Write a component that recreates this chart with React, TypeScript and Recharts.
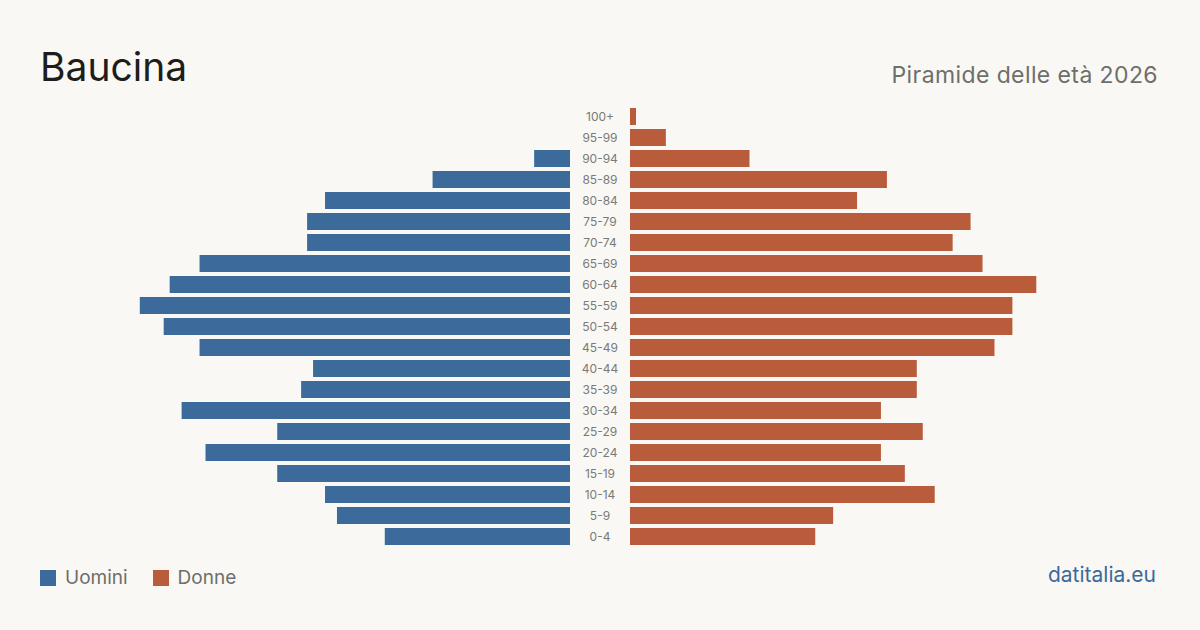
import React from "react";
import { BarChart, Bar, XAxis, YAxis } from "recharts";

const AGE_GROUPS = [
  "100+", "95-99", "90-94", "85-89", "80-84", "75-79", "70-74", "65-69", "60-64", "55-59",
  "50-54", "45-49", "40-44", "35-39", "30-34", "25-29", "20-24", "15-19", "10-14", "5-9", "0-4",
];
const MEN = [0, 0, 6, 23, 41, 44, 44, 62, 67, 72, 68, 62, 43, 45, 65, 49, 61, 49, 41, 39, 31];
const WOMEN = [1, 6, 20, 43, 38, 57, 54, 59, 68, 64, 64, 61, 48, 48, 42, 49, 42, 46, 51, 34, 31];

const COLORS = { men: "#3b6a9b", women: "#b95c3c", bg: "#f9f8f4" };
const FONT = "Inter, 'Noto Sans', sans-serif";
const DOMAIN: [number, number] = [0, 80];

const data = AGE_GROUPS.map((age, i) => ({ age, men: MEN[i], women: WOMEN[i] }));

// age label sits in the gap between the two halves
function AgeTick({ y, payload }: any) {
  return (
    <text x={30} y={y} dy={4} textAnchor="middle" fontSize={12} fill="#7a7a78" fontFamily={FONT}>
      {payload.value}
    </text>
  );
}

export default function App() {
  return (
    <div
      style={{
        position: "fixed",
        top: 0,
        left: 0,
        width: 1200,
        height: 630,
        background: COLORS.bg,
        fontFamily: FONT,
        overflow: "hidden",
      }}
    >
      <div style={{ position: "absolute", left: 40, top: 47, fontSize: 39, lineHeight: 1, color: "#1d1d1b" }}>
        Baucina
      </div>
      <div
        style={{
          position: "absolute",
          right: 42,
          top: 64,
          fontSize: 23,
          lineHeight: 1,
          letterSpacing: 0.4,
          color: "#6e6e6b",
        }}
      >
        Piramide delle età 2026
      </div>

      <div style={{ position: "absolute", left: 92, top: 106 }}>
        <BarChart width={478} height={441} data={data} layout="vertical" margin={{ top: 0, right: 0, bottom: 0, left: 0 }}>
          <XAxis type="number" domain={DOMAIN} reversed hide />
          <YAxis type="category" dataKey="age" hide />
          <Bar dataKey="men" fill={COLORS.men} barSize={17} isAnimationActive={false} />
        </BarChart>
      </div>

      <div style={{ position: "absolute", left: 570, top: 106 }}>
        <BarChart width={538} height={441} data={data} layout="vertical" margin={{ top: 0, right: 0, bottom: 0, left: 0 }}>
          <XAxis type="number" domain={DOMAIN} hide />
          <YAxis type="category" dataKey="age" width={60} axisLine={false} tickLine={false} tick={<AgeTick />} interval={0} />
          <Bar dataKey="women" fill={COLORS.women} barSize={17} isAnimationActive={false} />
        </BarChart>
      </div>

      <div style={{ position: "absolute", left: 40, top: 566, display: "flex", alignItems: "center", fontSize: 19, color: "#6e6e6b" }}>
        <span style={{ width: 16, height: 16, background: COLORS.men, display: "inline-block", marginRight: 9 }} />
        <span style={{ marginRight: 25 }}>Uomini</span>
        <span style={{ width: 16, height: 16, background: COLORS.women, display: "inline-block", marginRight: 9 }} />
        <span>Donne</span>
      </div>
      <div style={{ position: "absolute", right: 44, top: 564, fontSize: 21, lineHeight: 1, color: COLORS.men }}>
        datitalia.eu
      </div>
    </div>
  );
}
